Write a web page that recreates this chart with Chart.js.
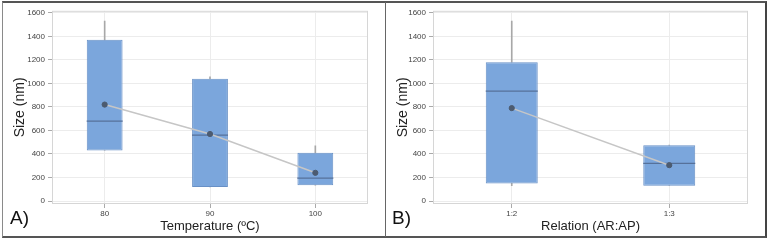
<!DOCTYPE html>
<html>
<head>
<meta charset="utf-8">
<script src="https://cdn.jsdelivr.net/npm/chart.js@4.4.1/dist/chart.umd.min.js"></script>
<style>
    body { margin: 0; background: #fff; width: 771px; height: 242px; overflow: hidden; font-family: "Liberation Sans", Arial, sans-serif; }
    #frame { position: absolute; left: 2px; top: 1px; width: 762px; height: 233px;
             border-left: 1px solid #8a8a8a; border-top: 2px solid #555; border-right: 2px solid #444; border-bottom: 2px solid #555; }
    #sep { position: absolute; left: 385px; top: 2px; width: 1px; height: 235px; background: #666; }
    .panel { position: absolute; top: 3px; height: 234px; }
    #panelA { left: 3px; width: 382px; }
    #panelB { left: 386px; width: 379px; }
    .tag { position: absolute; top: 207px; font-size: 19px; color: #111; }
</style>
</head>
<body>
<div id="frame"></div>
<div id="sep"></div>
<div class="panel" id="panelA"><canvas id="chartA"></canvas></div>
<div class="panel" id="panelB"><canvas id="chartB"></canvas></div>
<div class="tag" style="left:10px">A)</div>
<div class="tag" style="left:392px">B)</div>

<script>
// Panel A: temperature
const tempLabels = ["80", "90", "100"];
const tempBoxLow = [430, 120, 135];
const tempBoxHigh = [1370, 1040, 410];
const tempMedian = [680, 560, 195];
const tempMean = [820, 570, 240];
const tempWhiskerHigh = [1530, 1055, 470];
const tempWhiskerLow = [430, 120, 135];

// Panel B: relation AR:AP
const relLabels = ["1:2", "1:3"];
const relBoxLow = [150, 130];
const relBoxHigh = [1180, 475];
const relMedian = [935, 320];
const relMean = [790, 305];
const relWhiskerHigh = [1530, 475];
const relWhiskerLow = [130, 130];

const yTicks = [0, 200, 400, 600, 800, 1000, 1200, 1400, 1600];

const BOX_FILL = "#7ba6dc";
const BOX_EDGE = "#6890c6";
const MEDIAN_COLOR = "#56719a";
const MEAN_DOT = "#4c5b70";
const MEAN_LINE = "#c6c6c6";

// light grey frame around the plot area
const plotFrame = {
    id: "plotFrame",
    beforeDatasetsDraw(chart) {
        const a = chart.chartArea;
        const ctx = chart.ctx;
        ctx.save();
        ctx.strokeStyle = "#d6d6d6";
        ctx.lineWidth = 1;
        ctx.strokeRect(a.left + 0.5, a.top + 0.5, a.right - a.left - 1, a.bottom - a.top - 1);
        ctx.restore();
    }
};

function pairs(lo, hi) {
    return lo.map((v, i) => [v, hi[i]]);
}

function makeBoxChart(id, labels, low, high, median, mean, wLow, wHigh, opts) {
    const ctx = document.getElementById(id).getContext("2d");
    return new Chart(ctx, {
        type: "bar",
        data: {
            labels,
            datasets: [
                {
                    type: "line",
                    label: "Mean",
                    data: mean,
                    order: 0,
                    borderColor: MEAN_LINE,
                    borderWidth: 1.5,
                    pointRadius: 2.6,
                    pointBorderWidth: 1,
                    pointBackgroundColor: MEAN_DOT,
                    pointBorderColor: MEAN_DOT,
                    tension: 0
                },
                {
                    type: "line",
                    label: "Median",
                    data: median,
                    order: 1,
                    showLine: false,
                    pointStyle: "line",
                    pointRadius: opts.halfBox,
                    pointBorderWidth: 1.2,
                    pointBorderColor: MEDIAN_COLOR
                },
                {
                    label: "Box",
                    data: pairs(low, high),
                    order: 2,
                    grouped: false,
                    backgroundColor: BOX_FILL,
                    borderColor: BOX_EDGE,
                    borderWidth: 1,
                    borderSkipped: false,
                    categoryPercentage: 1,
                    barPercentage: opts.barPct
                },
                {
                    label: "Upper whisker",
                    data: pairs(high, wHigh),
                    order: 3,
                    grouped: false,
                    backgroundColor: "#a8a8a8",
                    barThickness: 1
                },
                {
                    label: "Lower whisker",
                    data: pairs(wLow, low),
                    order: 3,
                    grouped: false,
                    backgroundColor: "#a8a8a8",
                    barThickness: 1
                }
            ]
        },
        options: {
            responsive: true,
            maintainAspectRatio: false,
            animation: false,
            layout: { autoPadding: false, padding: { left: 0, right: opts.rightPad, top: 7, bottom: 0 } },
            plugins: {
                legend: { display: false },
                tooltip: { enabled: false }
            },
            scales: {
                x: {
                    offset: true,
                    grid: { offset: false, color: "#ececec", tickColor: "#aaa", tickLength: 4 },
                    border: { display: false },
                    ticks: { color: "#444", font: { size: 8 }, padding: 1 },
                    title: {
                        display: true,
                        text: opts.xTitle,
                        color: "#222",
                        font: { size: 13 },
                        padding: { top: 0, bottom: 3 }
                    },
                    afterFit: (s) => { s.height = 33; }
                },
                y: {
                    min: -25,
                    max: 1617,
                    grid: { color: "#ececec", tickColor: "#aaa", tickLength: 4 },
                    border: { display: false },
                    ticks: { color: "#444", font: { size: 8 }, padding: 3, callback: (v) => String(v) },
                    afterBuildTicks: (s) => { s.ticks = yTicks.map(v => ({ value: v })); },
                    title: {
                        display: true,
                        text: "Size (nm)",
                        color: "#222",
                        font: { size: 14 },
                        padding: { top: 9, bottom: 0 }
                    },
                    afterFit: (s) => { s.width = opts.yWidth; }
                }
            }
        },
        plugins: [plotFrame]
    });
}

Chart.defaults.font.family = '"Liberation Sans", Arial, sans-serif';

makeBoxChart("chartA", tempLabels, tempBoxLow, tempBoxHigh, tempMedian, tempMean,
    tempWhiskerLow, tempWhiskerHigh,
    { halfBox: 18, barPct: 0.34, rightPad: 17, yWidth: 49, xTitle: "Temperature (ºC)" });

makeBoxChart("chartB", relLabels, relBoxLow, relBoxHigh, relMedian, relMean,
    relWhiskerLow, relWhiskerHigh,
    { halfBox: 26, barPct: 0.33, rightPad: 17, yWidth: 47, xTitle: "Relation (AR:AP)" });
</script>
</body>
</html>
